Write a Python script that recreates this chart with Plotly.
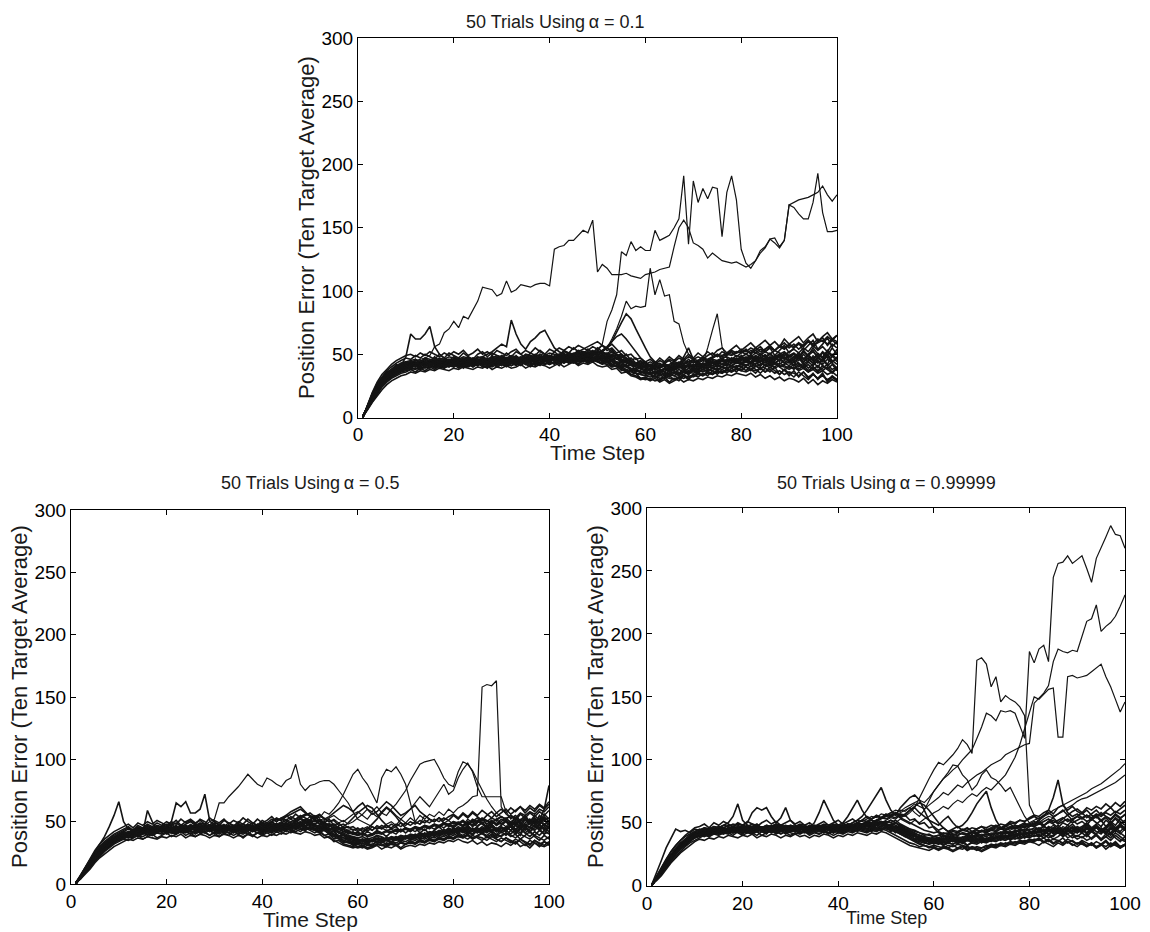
import plotly.graph_objects as go

TIME_STEPS = list(range(1, 101))
X_TICKS = [0, 20, 40, 60, 80, 100]
Y_TICKS = [0, 50, 100, 150, 200, 250, 300]

TITLE_TOP = "50 Trials Using\u2009\u03b1 = 0.1"
TITLE_LEFT = "50 Trials Using\u2009\u03b1 = 0.5"
TITLE_RIGHT = "50 Trials Using\u2009\u03b1 = 0.99999"
X_LABEL = "Time Step"
Y_LABEL = "Position Error (Ten Target Average)"

# ---------------- alpha = 0.1 (top) ----------------
TOP_T1 = [0,9,18,25,30,35,38,41,43,44, 45,46,44,47,46,45,47,46,48,47, 46,48,47,45,47,48,46,47,49,48, 47,49,48,47,50,49,48,50,49,51,
          50,49,52,51,50,53,52,51,50,52, 50,51,48,49,46,45,44,42,43,41, 42,40,41,43,40,42,41,43,42,44, 43,45,44,46,45,47,48,46,49,48,
          50,48,51,49,52,50,53,51,49,52, 54,51,55,52,57,53,56,52,58,55]
TOP_T2 = [1,8,15,21,26,30,33,35,37,38, 39,38,40,39,41,40,39,41,40,42, 41,40,42,41,43,42,41,40,42,43, 42,41,43,42,44,43,42,44,43,42,
          44,43,45,44,43,45,44,46,45,44, 43,42,40,41,39,37,36,35,34,33, 32,33,31,32,34,33,31,33,32,34, 35,34,36,35,37,36,38,37,39,38,
          40,38,41,39,40,42,39,41,40,38, 40,37,39,36,38,35,37,34,36,33]
TOP_T3 = [0,10,19,26,31,34,37,39,41,42, 41,43,42,44,42,43,45,43,44,42, 44,43,45,42,44,46,43,45,44,46, 45,43,46,44,47,45,44,46,48,45,
          47,46,48,47,49,48,50,47,49,48, 47,48,46,47,45,44,42,40,39,38, 37,39,36,38,37,35,38,36,39,37, 38,40,39,41,40,42,41,43,44,42,
          45,43,46,44,47,45,43,46,48,44, 46,49,44,47,43,48,45,50,44,47]
TOP_T4 = [1,9,17,23,28,32,35,37,39,41, 43,42,44,43,45,44,43,45,44,46, 45,44,46,45,44,46,47,45,46,44, 46,45,47,46,45,47,46,48,47,46,
          48,47,49,48,50,49,51,50,52,51, 53,55,52,50,48,46,44,43,41,40, 41,39,40,42,41,43,42,44,43,45, 44,46,45,47,49,48,50,49,51,52,
          50,53,51,54,52,55,53,56,54,57, 55,58,56,60,57,59,61,58,62,60]
TOP_T5 = [0,7,14,20,25,29,32,34,36,37, 38,39,38,40,39,41,40,39,41,40, 42,41,40,42,41,43,42,41,43,42, 41,43,42,44,43,42,44,43,42,44,
          43,45,44,46,45,44,46,45,47,46, 45,44,42,40,38,36,34,33,31,30, 31,29,30,32,31,30,32,31,33,32, 34,33,35,34,36,35,37,36,38,37,
          36,38,37,39,36,38,35,37,34,36, 35,33,36,32,34,31,33,30,32,29]
TOP_T6 = [1,9,16,22,27,31,34,37,39,40, 42,41,43,42,41,43,42,44,43,42, 43,42,44,43,45,44,43,42,44,45, 44,46,45,44,46,45,47,46,45,47,
          46,48,47,46,49,48,47,50,49,51, 53,56,60,64,66,62,57,52,47,43, 40,38,37,39,36,38,40,39,37,39, 41,40,42,41,43,42,44,45,43,46,
          44,47,45,48,46,44,47,49,46,48, 50,47,52,48,45,50,47,53,49,51]
TOP_T7 = [0,8,16,23,29,33,36,39,41,43, 44,43,42,44,43,45,44,43,45,44, 46,45,44,46,45,47,46,48,45,47, 46,48,47,45,47,46,48,47,49,48,
          47,49,48,50,49,51,50,49,51,50, 49,50,48,49,50,47,45,43,44,42, 40,42,39,41,40,38,40,39,41,40, 42,41,43,45,44,46,45,47,46,48,
          47,49,46,50,48,51,47,50,52,49, 51,48,53,49,55,50,47,52,48,54]
TOP_T8 = [1,8,15,22,27,31,34,36,38,39, 40,41,40,42,41,40,42,41,43,42, 41,43,42,44,43,42,44,43,42,44, 43,45,44,43,45,44,46,45,44,46,
          45,47,46,45,47,46,48,47,46,48, 47,45,44,42,40,38,37,35,34,33, 34,32,33,35,34,33,35,34,36,35, 37,36,38,37,39,38,40,39,41,40,
          42,40,43,41,44,42,40,43,41,39, 42,38,41,37,40,36,39,42,38,40]
TOP_T9 = [0,9,17,24,30,34,37,39,40,42, 43,42,44,42,43,44,42,44,43,45, 44,43,45,44,42,44,45,43,46,44, 45,47,44,46,45,47,44,46,48,46,
          47,45,48,46,49,47,50,48,51,49, 52,55,60,68,75,82,78,70,62,55, 48,44,42,40,38,41,39,42,40,38, 40,42,41,43,42,45,44,46,45,43,
          46,44,48,45,47,50,46,49,47,45, 48,51,46,50,53,47,52,49,55,50]
TOP_T10 = [1,8,16,22,28,32,35,37,38,40, 41,40,42,41,43,42,41,43,42,41, 43,42,41,43,44,42,43,45,43,42, 44,43,45,44,43,45,44,43,45,44,
           46,45,44,46,45,47,46,45,47,48, 46,47,45,44,42,41,39,38,36,35, 36,34,35,33,35,36,34,36,35,37, 36,38,37,39,38,40,39,41,40,42,
           41,43,40,42,44,41,43,40,42,44, 41,43,39,42,38,41,37,40,36,39]
TOP_T11 = [0,9,18,25,30,34,37,40,42,43, 42,44,43,45,44,43,45,44,46,45, 44,46,45,43,45,47,46,44,46,45, 47,46,48,45,47,49,46,48,47,49,
           48,50,49,51,50,52,54,56,58,60, 57,55,58,54,50,47,44,42,41,40, 42,41,43,40,42,44,43,45,44,46, 45,47,46,48,50,49,51,50,52,51,
           53,51,55,52,54,56,53,57,55,58, 56,59,57,61,58,62,60,64,61,65]
TOP_T12 = [1,8,15,21,26,31,34,36,38,39, 40,42,41,43,42,44,43,42,44,43, 42,44,43,42,44,43,45,44,43,45, 44,43,45,44,46,45,44,46,45,44,
           46,45,47,46,45,47,46,48,47,46, 45,46,44,43,41,40,38,37,36,35, 36,35,37,36,34,36,35,37,36,38, 39,38,40,39,41,40,42,41,43,42,
           44,42,45,43,41,44,42,46,43,41, 44,40,43,39,42,45,41,38,42,37]
TOP_T13 = [0,9,17,24,29,33,36,39,41,48, 66,62,62,66,72,56,50,47,45,46, 44,46,45,47,46,44,46,45,47,46, 45,47,46,48,46,45,47,46,48,47,
           46,48,47,49,48,47,49,48,50,49, 48,47,49,46,45,43,42,41,40,39, 38,40,39,41,39,40,42,41,40,42, 41,43,42,44,43,45,44,46,45,47,
           46,48,45,47,49,46,48,50,47,49, 47,50,46,49,52,48,51,47,50,46]
TOP_T14 = [1,9,17,23,28,33,36,38,40,41, 43,42,44,43,45,44,46,45,44,46, 45,47,46,45,47,48,50,52,55,58, 56,77,66,58,54,60,63,67,69,62,
           55,52,50,49,51,50,52,51,53,50, 49,48,50,47,46,44,43,41,42,40, 39,41,40,42,41,39,41,40,42,41, 43,42,44,43,45,44,46,45,47,46,
           48,46,49,47,45,48,46,50,47,45, 48,45,50,46,43,47,44,49,45,42]
TOP_T15 = [0,8,17,25,31,36,38,42,40,44, 41,46,42,47,43,48,44,40,46,42, 47,43,48,44,41,47,43,49,44,41, 47,43,49,45,42,48,44,50,46,43,
           49,45,51,47,44,50,46,52,48,45, 50,46,48,43,45,40,42,37,40,35, 39,34,38,33,37,41,35,39,34,40, 36,42,38,44,40,46,41,47,43,49,
           44,50,45,40,47,42,49,44,51,46, 41,48,43,50,45,39,47,42,49,44]
TOP_T16 = [1,7,13,19,24,28,31,33,35,36, 38,36,39,37,40,38,41,39,42,40, 43,39,42,40,44,41,39,43,40,42, 40,43,41,44,42,40,43,41,45,42,
           44,41,45,43,46,42,45,43,47,44, 42,44,40,41,37,38,34,35,31,32, 30,33,29,32,28,31,29,33,30,34, 32,35,33,37,34,38,35,39,36,40,
           37,41,38,35,39,36,40,34,38,33, 37,32,36,31,35,30,34,29,33,30]
TOP_T17 = [0,10,19,27,32,37,40,43,45,47, 46,49,47,50,48,46,50,47,51,49, 47,51,48,46,50,52,48,51,49,47, 51,48,52,50,47,51,49,53,50,48,
           52,49,53,51,55,52,50,54,51,55, 52,50,54,49,47,50,45,47,42,44, 41,44,40,43,45,41,44,42,46,43, 45,48,44,47,50,46,49,52,48,51,
           54,50,53,56,52,55,49,53,57,51, 55,59,53,57,61,54,58,63,56,60]
TOP_T18 = [1,8,15,22,27,31,34,37,39,40, 42,40,43,41,44,42,40,43,41,44, 42,45,43,41,44,42,46,43,41,44, 42,45,43,41,44,46,43,45,42,44,
           47,44,46,43,47,45,48,46,44,47, 45,43,46,42,44,40,38,39,35,36, 34,37,35,38,36,39,42,48,55,46, 40,38,41,39,42,40,43,41,44,42,
           45,43,46,44,47,42,45,48,43,46, 44,47,42,45,48,43,46,41,44,47]
TOP_T19 = [0,9,17,23,28,33,37,40,41,43, 44,42,45,43,41,44,42,45,43,46, 44,42,45,47,44,46,43,45,48,45, 43,46,44,47,45,43,46,48,45,47,
           45,48,46,49,47,45,48,50,47,49, 47,49,45,47,43,45,41,42,39,40, 37,40,38,36,39,37,40,38,41,39, 42,40,43,41,44,42,45,43,46,44,
           41,44,42,45,43,47,44,42,45,43, 46,43,40,44,41,45,42,46,43,39]
TOP_T20 = [1,7,14,20,25,30,33,36,37,39, 40,42,39,41,43,40,42,44,41,43, 40,42,44,41,43,40,44,42,45,43, 41,44,42,45,43,41,44,42,46,44,
           42,45,43,46,44,42,46,44,47,45, 43,45,41,43,39,41,37,38,35,37, 34,36,33,35,32,35,33,36,34,37, 35,38,36,39,37,40,38,41,39,42,
           40,37,41,38,42,39,43,40,37,41, 38,42,39,36,40,37,41,38,35,39]
TOP_T21 = [0,9,18,24,30,34,38,40,42,44, 43,45,44,46,45,47,44,46,45,48, 46,44,47,45,48,46,44,47,46,49, 47,45,48,46,49,47,50,48,46,49,
           47,50,48,51,49,52,50,48,51,53, 51,49,52,47,49,45,47,43,45,42, 44,42,45,43,46,44,47,45,48,46, 48,46,49,51,48,52,50,53,51,54,
           52,55,53,50,54,57,53,56,59,55, 58,54,57,61,56,60,63,57,61,58]
TOP_T22 = [1,8,14,20,25,29,32,35,37,38, 39,41,38,40,42,39,41,43,40,42, 39,41,43,40,42,44,41,43,40,42, 44,41,43,45,42,44,41,43,45,42,
           44,46,43,45,47,44,46,43,45,47, 44,46,42,44,40,42,38,36,37,34, 35,32,34,31,33,30,32,34,31,33, 35,33,36,34,37,35,38,36,39,37,
           40,38,35,39,36,40,37,34,38,35, 32,36,33,30,34,31,35,28,32,30]
TOP_T23 = [0,10,20,28,34,38,42,45,47,49, 50,48,51,49,52,50,48,51,49,52, 50,53,49,51,54,50,52,49,53,51, 49,52,54,50,53,51,55,52,50,54,
           52,55,53,56,54,57,55,53,56,54, 57,53,55,51,53,49,50,46,47,44, 46,43,47,44,48,45,49,46,50,47, 51,48,52,49,53,55,51,54,57,53,
           56,59,55,58,61,57,60,56,62,58, 61,64,59,63,66,60,64,67,62,65]
TOP_T24 = [1,6,12,17,22,26,29,31,33,34, 36,35,37,36,38,37,39,38,37,39, 38,40,39,38,40,39,41,38,40,39, 41,39,40,42,39,41,40,42,41,39,
           41,43,40,42,44,41,43,42,44,41, 40,41,38,39,35,36,33,32,30,31, 29,31,28,30,27,29,31,28,30,29, 31,30,32,31,33,32,34,33,35,34,
           33,35,32,34,31,33,30,32,29,31, 30,28,31,27,30,26,29,27,30,28]
TOP_A = [0,9,17,24,29,33,36,38,40,42, 44,45,46,47,49,56,58,67,70,76, 71,80,78,85,92,103,102,101,96,98, 108,99,101,105,104,103,105,106,106,104,
         133,135,136,140,140,144,148,146,156,115, 121,118,113,113,113,114,112,111,110,113, 114,115,117,118,119,135,150,156,150,138,
         136,133,126,130,127,124,123,122,123,121, 119,121,124,132,135,141,142,135,140,168, 170,172,173,174,176,178,183,176,171,176]
TOP_B = [1,8,16,22,27,31,34,37,39,40, 42,41,43,42,44,43,42,44,43,45, 44,43,45,46,44,45,47,46,45,47, 46,48,47,46,48,47,49,48,47,49,
         48,50,49,51,50,49,52,51,50,52, 58,76,85,97,131,128,139,132,135,132, 132,148,140,142,144,150,157,191,137,187,
         170,181,173,182,181,143,178,191,172,133, 122,118,124,130,134,141,138,134,140,168, 166,161,157,157,170,193,162,147,147,148]
TOP_C = [0,9,16,23,28,32,35,37,39,41, 42,43,42,44,43,45,44,43,45,44, 43,45,44,46,45,44,46,45,47,46, 45,47,46,48,47,46,48,47,49,48,
         47,49,48,50,49,51,50,52,51,50, 52,55,62,70,80,92,86,88,87,88, 118,97,109,96,97,76,74,59,50,45, 43,41,42,44,43,45,44,46,45,47,
         46,48,45,47,50,46,49,47,51,48, 50,47,52,49,46,51,48,53,49,52]
TOP_D = [1,8,15,21,27,31,34,36,38,40, 41,43,42,41,43,42,44,43,42,44, 43,44,42,45,43,44,46,44,43,45, 44,46,45,43,46,44,45,47,46,45,
         47,46,48,47,46,48,47,49,48,47, 49,48,46,47,45,43,41,40,38,37, 38,36,37,39,38,40,39,41,40,42, 41,43,55,69,82,56,47,44,46,45,
         47,44,48,46,49,45,47,50,46,48, 45,50,47,44,49,46,51,47,44,48]

# ---------------- alpha = 0.5 (bottom left) ----------------
BL_L1 = [0,6,11,17,22,26,30,33,36,38, 40,39,41,40,42,43,41,44,42,45, 44,46,43,45,47,44,46,45,43,46, 45,43,46,44,42,45,43,46,44,42,
         45,47,44,46,48,45,47,49,46,48, 47,45,46,43,44,41,40,38,37,36, 35,37,34,36,35,37,36,38,35,37, 38,36,39,37,40,38,41,39,42,40,
         43,41,44,42,45,43,41,44,42,46, 44,47,43,48,45,49,46,44,48,45]
BL_L2 = [1,5,9,14,19,23,27,30,33,35, 36,38,37,39,38,40,39,41,40,42, 41,40,42,41,43,40,42,41,39,42, 40,42,41,39,41,40,42,39,41,40,
         42,41,43,42,44,43,42,44,43,45, 44,42,43,40,38,36,34,33,32,30, 31,29,30,32,31,30,32,31,33,32, 33,32,34,33,35,34,36,35,37,36,
         38,37,39,36,38,37,35,38,36,34, 37,35,33,36,34,32,35,33,31,34]
BL_L3 = [0,6,12,18,23,28,32,35,38,40, 42,44,43,45,44,46,45,47,46,48, 47,49,46,48,50,47,49,48,46,49, 48,46,49,47,45,48,46,49,47,45,
         48,50,47,49,51,48,50,52,49,51, 50,52,49,47,48,45,44,42,41,40, 41,39,40,42,41,43,42,44,43,45, 44,46,45,47,46,48,47,49,48,50,
         49,51,48,52,50,53,51,49,52,54, 52,55,51,56,53,57,54,58,55,59]
BL_L4 = [1,7,13,19,25,31,38,46,55,66, 50,44,43,45,42,44,46,43,45,44, 46,44,47,45,43,46,44,47,45,44, 43,46,44,42,45,43,46,44,43,45,
         44,46,45,47,46,48,45,47,46,48, 46,44,45,42,40,39,37,36,35,34, 36,34,35,37,36,35,37,36,38,37, 39,38,40,39,41,40,42,41,43,42,
         44,42,45,43,41,44,42,46,43,45, 43,46,42,45,41,44,47,43,46,42]
BL_L5 = [0,5,10,14,19,24,28,31,34,36, 37,39,38,40,41,39,42,41,43,42, 43,41,44,42,43,45,42,44,43,41, 44,42,43,41,44,42,40,43,41,42,
         43,42,44,43,45,44,46,45,44,46, 45,43,44,41,39,37,35,34,33,32, 33,31,32,34,33,35,34,33,35,34, 36,35,37,36,38,37,39,38,40,39,
         41,39,42,40,43,41,39,42,40,38, 41,39,37,40,38,36,39,37,35,38]
BL_L6 = [1,6,11,16,21,26,30,33,36,38, 39,41,40,42,41,59,50,44,43,45, 50,65,62,66,57,57,60,72,51,46, 46,44,47,45,43,46,44,47,45,43,
         46,48,45,47,49,46,48,50,47,49, 48,46,47,44,45,42,41,39,38,37, 38,36,37,39,38,36,38,37,39,38, 40,39,41,40,42,41,43,42,44,43,
         45,43,46,44,42,45,43,47,44,42, 45,48,44,47,43,46,50,45,48,44]
BL_L7 = [0,5,11,16,21,25,29,33,35,37, 38,40,42,41,43,42,44,43,45,44, 43,45,44,46,45,43,46,44,45,47, 45,44,46,43,45,44,42,45,43,44,
         46,45,47,46,48,47,49,48,50,49, 51,48,47,45,43,41,39,37,36,35, 36,35,34,36,35,37,36,35,37,36, 38,37,39,38,40,39,41,42,40,43,
         42,44,41,45,43,46,44,42,45,43, 46,43,47,44,48,45,43,47,44,49]
BL_L8 = [1,6,12,17,22,27,31,34,37,39, 40,42,41,43,44,42,45,43,44,46, 45,47,44,46,45,47,46,44,47,45, 46,44,47,45,43,46,48,45,47,49,
         48,50,52,51,54,56,58,60,57,55, 52,50,48,47,45,44,42,41,40,39, 40,38,39,41,40,42,41,43,42,44, 43,45,44,46,45,47,46,48,47,49,
         48,50,47,51,49,52,50,53,51,54, 52,55,53,57,55,58,56,60,58,62]
BL_L9 = [0,5,10,15,20,24,28,31,34,36, 38,37,39,41,40,42,41,43,42,44, 43,42,44,43,45,44,43,45,44,43, 44,43,45,44,43,45,44,42,44,43,
         45,44,46,45,47,46,45,47,46,44, 43,41,39,37,35,33,31,30,29,30, 29,31,30,32,31,33,32,31,33,32, 34,33,35,34,36,35,37,36,38,37,
         39,38,40,37,39,41,38,40,37,39, 41,38,40,36,39,42,38,35,39,36]
BL_L10 = [1,6,11,17,22,27,30,34,36,39, 41,40,42,44,43,45,44,46,45,43, 45,44,46,45,47,46,48,45,47,46, 45,47,46,44,47,45,48,46,45,47,
          46,48,47,49,48,50,52,54,56,55, 53,55,52,54,57,60,63,61,58,62, 65,60,56,58,62,66,63,59,55,57, 60,63,58,55,52,50,53,49,47,50,
          48,51,47,50,53,49,46,50,48,52, 50,47,51,48,53,50,55,51,60,79]
BL_L11 = [0,6,12,17,22,26,30,33,36,38, 39,41,40,42,41,44,43,42,44,43, 45,43,44,46,44,43,45,47,44,46, 44,46,43,45,47,44,46,45,43,46,
          45,43,46,44,47,45,48,46,49,47, 46,47,45,43,44,41,39,38,37,36, 35,36,34,36,37,35,37,36,38,37, 39,37,40,38,41,39,42,40,43,41,
          44,42,40,43,45,41,44,46,42,45, 43,46,41,44,47,42,45,48,43,46]
BL_L12 = [1,5,10,14,19,23,27,31,34,37, 39,38,40,39,41,40,42,41,43,42, 41,43,42,44,42,41,43,42,44,43, 42,44,43,41,43,42,44,43,41,43,
          42,44,43,45,44,46,45,44,46,45, 44,45,43,42,40,38,37,35,34,33, 34,33,35,34,36,35,34,36,35,37, 36,38,37,39,38,40,39,41,40,42,
          41,43,42,44,41,43,45,42,44,41, 43,40,44,41,45,42,39,43,40,42]
BL_L13 = [0,5,11,16,22,27,30,34,36,39, 41,38,43,40,45,42,39,44,41,46, 43,40,45,42,47,44,41,46,43,48, 44,41,46,43,40,45,42,47,44,41,
          46,43,48,45,42,47,44,49,46,50, 47,44,46,41,43,38,40,35,37,33, 36,32,35,39,34,37,33,38,35,39, 36,40,37,41,38,43,39,44,41,45,
          42,46,43,40,45,41,47,43,39,45, 42,47,43,39,46,41,48,44,40,47]
BL_L14 = [1,4,9,13,18,22,26,29,32,34, 36,35,37,39,36,38,40,37,39,41, 38,40,42,39,41,38,40,42,39,41, 38,41,39,42,40,37,40,38,41,39,
          41,39,42,40,43,41,44,42,45,43, 41,43,39,40,36,37,33,34,31,32, 30,33,31,34,32,30,33,31,34,32, 35,33,36,34,37,35,38,36,39,37,
          40,38,36,39,37,35,38,36,34,37, 35,33,36,34,31,35,33,30,34,32]
BL_L15 = [0,7,13,19,25,30,34,37,40,42, 44,46,43,47,45,48,46,49,47,50, 48,51,47,50,52,49,51,48,53,50, 47,51,49,46,50,48,52,49,47,51,
          49,52,50,53,51,54,52,55,53,51, 54,51,49,52,47,49,45,46,43,45, 42,45,43,46,44,47,45,48,46,49, 47,50,48,51,49,52,50,53,51,55,
          52,56,53,57,54,51,55,58,54,57, 60,56,59,62,57,61,58,63,60,64]
BL_L16 = [1,6,11,16,21,25,29,33,36,38, 40,42,39,43,41,44,42,45,43,41, 44,42,46,43,45,47,44,46,43,45, 47,44,46,43,45,48,45,43,46,44,
          47,45,48,46,49,47,45,48,46,49, 47,45,48,44,46,42,44,40,42,39, 41,44,48,52,57,61,58,54,49,45, 42,45,41,44,40,43,46,42,45,43,
          46,44,47,43,46,49,45,48,44,47, 50,46,49,45,52,48,51,47,54,50]
BL_L17 = [0,5,10,15,20,24,28,31,34,37, 38,40,42,39,41,43,40,42,44,41, 43,41,44,42,40,43,41,45,42,44, 41,43,45,42,44,41,43,46,43,41,
          44,42,45,43,46,44,47,45,43,46, 44,42,45,41,42,38,39,36,37,34, 35,33,36,34,37,35,33,36,34,38, 36,39,37,40,38,41,39,42,40,43,
          41,44,42,39,43,40,44,41,38,42, 39,43,40,44,41,38,42,39,43,40]
BL_L18 = [1,6,12,17,23,28,32,35,37,40, 42,41,44,42,45,43,46,44,42,45, 43,46,44,47,45,43,46,44,47,45, 43,46,44,47,45,42,46,44,48,45,
          47,50,53,51,55,58,60,62,58,54, 51,48,50,46,48,44,46,49,53,57, 60,63,61,56,51,47,44,46,42,45, 43,46,44,47,45,48,46,49,47,45,
          48,46,50,47,51,48,45,49,52,48, 51,48,53,49,46,52,48,55,51,53]
BL_L19 = [0,6,12,18,24,29,33,36,39,41, 43,45,42,46,44,47,45,43,47,45, 48,45,43,47,44,48,46,43,47,45, 48,45,47,44,48,46,43,47,45,49,
          46,50,47,45,49,47,51,48,52,50, 48,51,46,48,44,46,42,43,40,42, 39,42,40,43,41,38,42,40,44,41, 44,42,45,43,46,44,47,45,48,46,
          49,47,50,46,49,52,48,51,47,50, 53,49,47,51,55,50,53,49,56,52]
BL_L20 = [1,5,10,14,19,24,27,31,33,36, 37,39,41,38,40,42,39,41,43,40, 42,44,41,43,40,42,44,41,43,40, 42,44,41,43,40,42,45,42,44,41,
          43,45,42,44,46,43,45,47,44,46, 43,41,44,40,38,39,35,36,33,34, 31,33,30,32,35,31,34,32,29,32, 34,32,35,33,36,34,37,35,38,36,
          39,37,40,36,38,41,37,39,36,34, 37,34,32,36,33,31,35,32,34,31]
BL_L21 = [0,7,14,21,27,32,36,39,42,44, 46,48,45,49,47,50,48,51,49,47, 50,48,52,49,51,48,52,50,47,51, 49,52,48,51,49,53,50,48,52,49,
          51,54,50,53,55,52,56,53,55,57, 54,56,52,50,51,47,48,45,46,43, 45,42,46,44,47,45,48,46,49,47, 50,48,51,49,52,50,53,51,54,56,
          53,57,54,58,55,59,56,53,57,60, 57,61,58,62,59,63,60,64,61,66]
BL_L22 = [1,4,8,12,17,21,24,27,30,32, 34,36,35,37,36,38,37,36,38,37, 39,38,40,37,39,38,40,39,37,39, 38,40,39,37,39,38,40,39,37,39,
          38,40,39,41,40,42,41,40,42,41, 39,40,37,38,34,35,32,31,30,29, 30,28,29,31,28,30,29,31,28,30, 31,30,32,31,33,32,34,33,35,34,
          36,34,33,35,32,34,31,33,32,30, 33,31,34,30,32,29,33,31,30,32]
BL_R = [0,6,11,16,21,25,29,32,35,38, 40,39,41,43,42,44,43,45,44,46, 45,44,46,45,47,46,48,47,50,52, 65,65,70,74,78,83,88,84,80,78,
        85,83,80,78,83,85,96,80,75,79, 80,82,83,83,80,75,70,65,58,52, 50,48,46,44,45,43,44,42,43,44, 42,45,43,46,44,47,45,48,46,47,
        49,46,48,50,47,49,46,48,50,48, 51,47,50,46,49,52,48,51,47,50]
BL_S = [1,5,10,15,20,25,29,32,35,37, 39,41,40,42,43,41,44,42,45,43, 44,46,45,43,46,44,47,45,43,46, 45,47,44,46,48,45,47,49,46,48,
        47,49,48,50,52,49,51,53,50,52, 55,53,58,56,60,65,72,80,88,92, 85,80,72,65,85,92,90,94,88,80, 65,50,48,55,52,50,53,49,51,48,
        50,47,52,49,46,50,48,51,47,49, 46,50,47,52,48,45,50,53,48,51]
BL_T = [0,6,12,18,23,27,31,34,36,39, 41,40,42,44,43,45,44,46,45,47, 46,44,47,45,48,46,44,47,45,48, 46,48,45,47,49,46,48,45,47,49,
        48,46,49,47,50,52,50,53,51,54, 52,55,53,50,52,49,51,48,50,53, 56,60,58,62,57,55,60,64,70,75, 83,90,96,98,99,100,93,85,80,78,
        90,98,96,91,83,75,68,62,57,54, 52,50,53,49,51,48,52,50,47,51]
BL_P = [1,6,11,16,21,26,30,33,36,38, 39,41,43,42,44,43,45,44,46,45, 44,46,45,47,45,44,46,48,45,47, 46,45,47,44,46,48,45,47,46,44,
        47,45,48,46,49,47,50,48,51,49, 48,50,47,49,46,44,45,43,44,42, 44,46,43,47,45,48,50,47,52,49, 53,50,55,52,56,54,58,55,60,57,
        61,63,66,70,71,158,160,159,163,62, 56,53,55,51,54,50,53,49,52,48]
BL_Q = [0,5,10,15,20,24,28,32,35,37, 38,40,39,41,40,42,41,43,42,44, 43,45,44,42,45,43,46,44,42,45, 44,46,43,45,44,42,45,43,46,44,
        45,47,46,48,47,46,48,50,49,51, 50,52,51,53,55,52,50,53,56,58, 55,52,57,54,58,62,59,55,52,56, 60,65,70,66,62,68,74,80,72,75,
        85,92,97,90,78,70,70,70,70,70, 58,52,55,50,53,49,52,48,51,47]

# ---------------- alpha = 0.99999 (bottom right) ----------------
BR_1 = [0,6,12,18,23,28,32,36,39,41, 43,42,44,43,45,44,46,45,47,46, 45,47,46,44,46,45,47,46,44,45, 44,46,45,43,45,44,46,45,43,45,
        44,46,45,47,46,48,47,49,48,47, 46,47,45,44,42,40,38,37,36,35, 36,34,35,37,36,35,37,36,35,37, 36,38,37,39,38,40,39,41,40,42,
        41,43,40,44,42,45,43,41,44,42, 45,42,46,43,41,45,42,46,43,47]
BR_2 = [1,5,10,15,20,25,29,32,35,38, 39,41,40,42,41,43,42,44,43,42, 43,42,44,43,42,44,43,41,43,42, 41,43,42,44,43,41,43,42,44,43,
        42,44,43,45,44,43,45,44,46,45, 44,43,41,39,37,35,33,32,31,32, 31,30,32,31,33,32,31,29,31,30, 32,31,33,32,34,33,35,34,36,35,
        37,36,38,35,37,36,34,37,35,33, 36,34,32,35,33,31,34,32,30,33]
BR_3 = [0,7,13,19,24,29,33,37,40,43, 45,44,46,45,47,46,48,47,49,48, 47,49,48,46,48,47,49,48,46,48, 47,45,47,46,48,47,45,47,46,48,
        47,49,48,50,49,51,50,52,51,50, 52,50,48,46,45,43,42,40,41,39, 40,42,41,43,42,44,43,42,44,43, 45,44,46,45,47,46,48,47,49,48,
        50,49,51,53,50,52,54,51,53,55, 53,56,54,57,55,58,56,59,57,60]
BR_4 = [1,10,20,30,38,45,43,44,42,45, 44,46,45,47,46,48,50,55,65,52, 48,46,47,45,47,46,48,47,45,47, 46,44,46,45,47,46,44,46,45,47,
        46,48,47,49,48,47,49,48,50,49, 48,46,47,45,43,41,40,38,37,36, 37,35,36,38,37,36,38,37,39,38, 37,39,38,40,39,41,40,42,41,43,
        42,44,41,43,45,42,44,46,43,45, 43,46,44,47,45,42,46,44,48,45]
BR_5 = [0,6,11,17,22,27,31,35,38,40, 42,44,43,45,44,46,45,47,46,48, 50,58,62,60,62,55,50,54,62,52, 48,46,47,45,47,46,44,46,45,47,
        46,45,47,46,48,47,49,48,47,49, 48,47,45,43,41,39,38,36,35,34, 35,33,34,36,35,34,36,35,37,36, 38,37,39,38,40,39,41,40,42,41,
        43,42,44,41,43,45,42,44,41,43, 45,42,44,41,46,43,40,44,42,39]
BR_6 = [1,6,12,17,22,26,30,34,37,40, 41,43,42,44,43,45,44,46,45,44, 46,45,43,45,44,46,45,47,46,44, 46,45,47,46,50,58,68,60,52,48,
        50,55,62,68,60,54,52,50,51,49, 48,50,47,45,44,42,40,39,38,37, 38,36,37,39,38,37,39,38,40,39, 41,40,42,41,43,42,44,43,45,44,
        46,44,47,45,43,46,44,48,45,43, 46,49,45,48,44,47,50,46,49,45]
BR_7 = [0,5,11,16,21,26,30,34,37,39, 41,40,42,41,43,42,44,43,45,44, 43,45,44,46,45,44,46,45,47,46, 45,47,46,44,46,45,47,46,48,47,
        46,48,50,52,55,60,66,72,78,68, 60,56,62,66,70,72,68,60,52,46, 42,40,38,39,37,38,40,39,41,40, 39,41,40,42,41,43,42,44,43,45,
        44,46,43,47,45,48,44,46,49,45, 47,50,46,49,52,47,51,48,53,50]
BR_8 = [1,6,11,16,21,26,30,33,36,39, 40,42,41,43,42,44,43,42,44,43, 44,43,45,44,42,44,43,45,44,43, 44,42,44,43,45,44,42,44,43,45,
        44,46,45,44,46,45,47,46,45,47, 46,44,43,41,39,37,36,35,33,34, 33,35,34,33,35,34,36,35,34,36, 35,37,36,38,37,39,38,37,39,38,
        40,39,41,38,40,42,39,41,38,40, 38,41,37,40,36,39,42,38,35,39]
BR_9 = [0,6,12,17,23,28,32,35,38,41, 42,44,43,45,44,46,45,44,46,45, 47,46,44,46,45,47,46,48,45,47, 46,45,47,46,44,46,45,47,46,45,
        47,46,48,47,49,48,50,52,54,55, 56,58,55,57,60,62,58,55,52,50, 48,52,55,50,46,48,52,58,65,70, 75,62,52,46,43,41,42,40,43,41,
        44,42,45,43,46,44,42,45,43,47, 45,48,44,47,43,46,49,45,48,44]
BR_10 = [1,5,11,16,21,26,30,34,37,40, 42,41,43,42,44,43,45,44,43,45, 44,46,45,43,45,44,46,45,44,46, 45,44,46,45,43,45,44,46,45,44,
         46,45,47,46,48,47,46,48,47,49, 48,46,45,43,42,40,38,37,36,37, 36,38,37,35,37,36,38,37,36,38, 37,39,38,40,42,41,43,45,44,47,
         49,52,55,60,70,84,65,58,55,57, 54,56,52,55,51,54,50,53,49,52]
BR_11 = [0,6,11,16,21,25,29,33,36,38, 40,39,41,43,42,44,43,45,44,43, 45,44,43,45,44,42,44,43,45,44, 43,45,44,42,44,43,45,44,42,44,
         43,45,44,46,45,44,46,45,44,46, 45,43,42,40,38,36,34,32,31,30, 29,31,30,32,30,29,31,30,28,30, 31,33,32,34,33,35,34,36,35,37,
         36,38,35,37,34,36,33,35,32,34, 33,31,34,30,33,29,32,35,31,33]
BR_12 = [1,7,13,18,23,28,32,36,39,42, 43,45,44,46,45,43,45,44,46,45, 46,44,46,45,47,46,44,46,45,47, 45,47,46,44,46,45,47,46,44,46,
         45,47,46,48,47,49,48,50,49,51, 50,52,49,47,45,44,42,41,40,39, 40,39,41,40,42,41,40,42,41,43, 42,44,43,45,44,46,45,47,46,48,
         47,49,48,50,52,49,51,53,50,52, 54,51,53,56,52,55,53,57,54,56]
BR_13 = [0,6,12,17,22,28,31,35,38,40, 42,45,41,44,47,43,46,42,45,48, 44,47,43,46,42,45,48,44,47,43, 46,42,45,48,44,47,43,46,42,45,
         48,44,47,43,46,49,45,48,44,47, 43,46,41,43,39,41,36,38,34,37, 33,36,40,35,38,34,37,41,36,39, 35,38,42,37,40,36,39,43,38,41,
         44,39,42,46,41,44,40,43,47,42, 45,41,44,48,43,46,41,45,49,44]
BR_14 = [1,5,9,14,19,23,27,31,34,36, 38,40,39,41,40,42,41,43,42,40, 42,41,43,40,42,44,41,43,42,40, 42,41,43,40,42,41,43,42,40,42,
         41,43,42,44,43,42,44,43,45,44, 42,40,38,36,34,33,31,32,30,31, 29,31,30,28,30,32,29,31,30,28, 30,32,31,33,32,34,33,35,34,36,
         35,37,34,36,33,35,38,34,36,33, 35,32,34,31,33,36,32,34,31,33]
BR_15 = [0,7,14,20,25,30,34,37,40,43, 44,46,45,47,46,48,47,49,48,46, 48,47,49,46,48,47,49,48,46,48, 47,49,48,46,48,47,49,48,46,48,
         47,49,48,50,52,51,53,55,54,56, 55,57,54,52,50,48,46,44,43,42, 43,41,42,44,43,45,44,46,45,47, 46,48,47,49,48,51,50,52,51,53,
         55,53,56,58,55,57,60,56,59,61, 58,62,60,63,61,65,62,66,63,67]
BR_16 = [1,6,11,16,21,25,29,33,36,38, 40,42,41,43,42,41,43,42,44,43, 42,44,43,45,44,43,45,44,42,44, 43,45,44,42,44,43,45,44,42,44,
         43,45,44,46,45,47,46,45,47,46, 45,43,41,39,38,36,35,34,33,35, 34,32,34,33,35,34,32,34,33,35, 34,36,35,37,36,38,37,39,38,40,
         39,41,38,40,37,39,42,38,40,37, 39,36,38,41,37,39,36,40,37,35]
BR_17 = [0,6,12,17,22,27,31,35,38,41, 43,42,44,43,45,44,46,45,47,46, 45,47,46,44,46,45,47,46,48,47, 46,48,47,45,47,46,48,47,49,48,
         47,49,48,50,49,51,50,52,54,53, 55,54,57,56,60,63,66,64,60,55, 50,46,43,41,40,42,41,43,42,44, 43,45,44,46,45,47,46,48,47,49,
         48,50,47,51,49,46,50,48,52,49, 51,48,53,50,47,52,49,54,51,48]
BR_18 = [1,8,15,21,27,32,36,39,41,43, 44,43,45,44,46,45,44,46,45,47, 46,45,47,46,45,47,46,48,47,45, 47,46,45,47,46,48,47,45,47,46,
         48,47,49,48,47,49,48,50,49,48, 47,45,44,42,40,39,37,36,35,36, 35,37,36,38,37,36,38,37,39,38, 37,39,38,40,39,41,40,42,41,43,
         42,44,43,41,44,42,45,43,46,44, 42,45,43,46,44,41,45,43,47,44]
BR_19 = [0,6,11,17,22,27,30,34,37,39, 41,43,42,44,43,45,44,46,45,44, 46,45,44,46,45,47,46,45,47,46, 45,47,46,44,46,45,47,46,45,47,
         46,48,47,49,48,50,49,48,50,51, 50,48,46,44,43,41,40,38,37,39, 38,40,39,41,40,42,41,43,42,44, 43,45,47,46,48,50,49,52,51,54,
         56,55,58,60,57,62,64,60,63,59, 57,60,56,54,58,55,52,56,53,57]
BR_20 = [1,5,10,15,20,25,29,33,36,39, 40,42,39,43,41,44,42,40,43,41, 44,42,40,43,41,45,42,44,41,43, 45,42,44,41,43,46,43,41,44,42,
         45,43,46,44,47,45,43,46,44,47, 45,42,44,39,41,37,38,34,36,33, 35,32,34,37,33,36,32,35,38,34, 37,35,38,36,39,37,40,38,41,39,
         42,40,38,41,39,43,40,44,41,39, 42,39,43,40,37,41,38,42,39,36]
BR_21 = [0,7,14,21,27,32,36,40,43,46, 47,49,46,50,48,51,49,47,50,48, 51,49,47,50,52,49,51,48,50,52, 49,51,48,50,47,49,51,48,50,52,
         49,51,53,50,52,55,53,56,54,57, 55,58,54,56,52,53,49,50,46,47, 44,46,43,45,47,44,46,43,45,47, 44,46,48,45,47,49,46,48,50,47,
         49,52,48,51,54,50,53,56,52,55, 58,54,57,60,56,59,62,58,61,64]
BR_22 = [1,4,8,13,18,22,26,29,32,35, 37,36,38,37,39,38,40,39,38,40, 39,41,38,40,39,41,40,38,40,39, 41,39,40,38,40,39,41,40,38,40,
         39,41,40,42,41,40,42,41,43,42, 40,38,36,34,32,31,30,29,28,30, 28,30,29,27,29,31,28,30,29,27, 29,31,30,32,31,33,32,34,33,35,
         34,32,35,33,31,34,32,35,33,31, 34,31,33,30,32,35,31,33,30,32]
BR_U = [0,6,12,17,22,27,31,35,38,40, 42,41,43,42,44,43,45,44,46,45, 44,46,45,47,46,45,47,46,44,46, 45,47,46,44,46,45,47,46,45,47,
        46,48,47,49,48,50,49,51,50,52, 54,53,56,55,58,62,70,78,85,92, 98,96,100,104,109,116,112,105,179,181, 176,158,166,146,151,148,146,142,135,64,
        56,50,47,45,48,44,46,43,47,45, 42,46,44,48,45,43,47,44,49,46]
BR_V = [1,6,11,17,22,27,31,34,37,40, 42,44,43,45,44,46,45,47,46,45, 47,46,45,47,46,48,47,45,47,46, 45,47,46,48,47,45,47,46,48,47,
        49,48,50,52,51,53,55,54,57,56, 58,60,59,62,64,66,68,66,70,75, 80,85,88,92,95,100,104,108,117,126, 137,135,131,139,138,139,137,127,117,186,
        177,188,191,178,245,256,257,262,256,259, 262,252,241,260,268,277,286,279,278,268]
BR_W = [0,6,12,18,23,27,31,35,38,41, 43,42,44,43,45,44,46,45,44,46, 45,47,46,44,46,45,47,46,48,47, 46,44,46,45,47,46,44,46,45,47,
        46,48,47,49,48,50,52,51,53,55, 57,56,58,60,62,65,63,61,64,67, 70,74,72,76,80,78,82,85,88,90, 93,96,98,100,104,106,108,110,112,113,
        145,149,153,159,178,188,186,185,187,186, 198,210,212,223,202,206,209,214,222,231]
BR_WB = [1,6,11,16,21,26,30,34,37,39, 41,43,42,44,43,45,44,46,45,47, 46,44,46,45,47,46,45,47,46,44, 46,45,47,46,45,47,46,44,46,45,
         47,46,48,47,49,48,47,49,51,50, 52,50,53,51,49,52,50,53,55,58, 60,63,61,65,68,66,70,73,71,75, 78,76,80,84,88,95,102,112,125,138,
         150,148,152,156,157,118,118,166,167,165, 166,167,170,173,176,166,158,148,138,146]
BR_Y = [0,5,11,16,22,27,31,35,38,40, 42,41,43,45,44,46,45,47,46,45, 47,46,48,45,47,46,48,47,45,47, 46,48,47,45,47,46,48,47,46,48,
        47,49,48,50,52,51,53,55,54,56, 58,57,60,59,62,58,55,60,68,75, 80,85,90,96,95,88,84,76,80,88, 92,86,84,80,75,78,70,62,55,50,
        47,45,48,44,46,43,47,45,42,46, 44,47,43,46,42,45,48,44,41,45]
BR_Z1 = [0,6,12,17,22,27,31,34,37,40, 41,43,42,44,43,45,44,46,45,44, 46,45,44,46,45,47,46,44,46,45, 44,46,45,47,46,44,46,45,47,46,
         45,47,46,48,47,49,48,50,49,48, 47,45,44,42,41,39,38,37,36,38, 37,39,38,40,39,38,40,39,41,40, 42,41,43,42,44,45,47,46,48,50,
         52,54,55,57,60,62,64,66,68,70, 72,74,77,79,81,84,87,90,93,97]
BR_Z2 = [1,6,11,16,21,26,30,34,37,39, 41,40,42,44,43,45,44,43,45,46, 45,44,46,45,43,45,44,46,45,47, 46,45,47,45,44,46,45,47,46,44,
         46,45,47,46,48,47,46,48,50,49, 48,46,45,43,41,40,39,38,37,36, 38,37,39,38,37,39,38,40,39,41, 40,42,41,43,42,44,46,45,47,49,
         51,50,53,55,54,57,59,62,64,67, 69,70,72,74,76,78,80,82,85,88]

# (x axis, y axis, trials inside the dense band, trials that break away from it)
PANELS = [
    ("x", "y",
     [TOP_T1, TOP_T2, TOP_T3, TOP_T4, TOP_T5, TOP_T6, TOP_T7, TOP_T8, TOP_T9, TOP_T10, TOP_T11, TOP_T12,
      TOP_T13, TOP_T14, TOP_T15, TOP_T16, TOP_T17, TOP_T18, TOP_T19, TOP_T20, TOP_T21, TOP_T22, TOP_T23, TOP_T24],
     [TOP_A, TOP_B, TOP_C, TOP_D]),
    ("x2", "y2",
     [BL_L1, BL_L2, BL_L3, BL_L4, BL_L5, BL_L6, BL_L7, BL_L8, BL_L9, BL_L10, BL_L11, BL_L12,
      BL_L13, BL_L14, BL_L15, BL_L16, BL_L17, BL_L18, BL_L19, BL_L20, BL_L21, BL_L22],
     [BL_R, BL_S, BL_T, BL_P, BL_Q]),
    ("x3", "y3",
     [BR_1, BR_2, BR_3, BR_4, BR_5, BR_6, BR_7, BR_8, BR_9, BR_10, BR_11, BR_12, BR_13, BR_14,
      BR_15, BR_16, BR_17, BR_18, BR_19, BR_20, BR_21, BR_22],
     [BR_U, BR_V, BR_W, BR_WB, BR_Y, BR_Z1, BR_Z2]),
]

fig = go.Figure()
for xa, ya, band, outliers in PANELS:
    for trials, width in ((band, 1.6), (outliers, 1.2)):
        for tr in trials:
            assert len(tr) == len(TIME_STEPS), len(tr)
            fig.add_trace(go.Scatter(x=TIME_STEPS, y=tr, mode="lines", xaxis=xa, yaxis=ya,
                                     line=dict(color="#141414", width=width), hoverinfo="skip",
                                     showlegend=False))

FONT = "Liberation Sans, Arial, sans-serif"
W, H = 1150, 932


def fx(px):
    return px / W


def fy(py):
    return 1 - py / H


def xax(x0, x1, anchor):
    return dict(domain=[fx(x0), fx(x1)], anchor=anchor, range=[0, 100], tickvals=X_TICKS, ticks="inside",
                ticklen=5, mirror="allticks", showline=True, linecolor="black", linewidth=1, showgrid=False,
                zeroline=False, automargin=False, tickfont=dict(family=FONT, size=19, color="black"),
                tickcolor="black", fixedrange=True)


def yax(y0, y1, anchor):
    return dict(domain=[fy(y0), fy(y1)], anchor=anchor, range=[0, 300], tickvals=Y_TICKS, ticks="inside",
                ticklen=5, mirror="allticks", showline=True, linecolor="black", linewidth=1, showgrid=False,
                zeroline=False, automargin=False, tickfont=dict(family=FONT, size=19, color="black"),
                tickcolor="black", fixedrange=True)


fig.update_layout(
    width=W, height=H, margin=dict(l=0, r=0, t=0, b=0, pad=0, autoexpand=False), autosize=False,
    paper_bgcolor="white", plot_bgcolor="white", showlegend=False,
    xaxis=xax(358, 837, "y"), yaxis=yax(417.5, 38, "x"),
    xaxis2=xax(71, 549, "y2"), yaxis2=yax(884, 510, "x2"),
    xaxis3=xax(647, 1125, "y3"), yaxis3=yax(885.7, 508, "x3"),
)


def note(text, px, py, size, angle=0):
    fig.add_annotation(text=text, x=fx(px), y=fy(py), xref="paper", yref="paper", showarrow=False,
                       xanchor="center", yanchor="middle", textangle=angle,
                       font=dict(family=FONT, size=size, color="#1a1a1a"))


note(TITLE_TOP, 555, 22, 18)
note(TITLE_LEFT, 310, 483, 18)
note(TITLE_RIGHT, 886, 483, 18)
note(X_LABEL, 597, 452, 21)
note(X_LABEL, 310, 919, 21)
note(X_LABEL, 886, 918, 18)
note(Y_LABEL, 306, 228, 22, -90)
note(Y_LABEL, 19, 697, 22, -90)
note(Y_LABEL, 595, 697, 22, -90)

fig.write_html("out.html")
